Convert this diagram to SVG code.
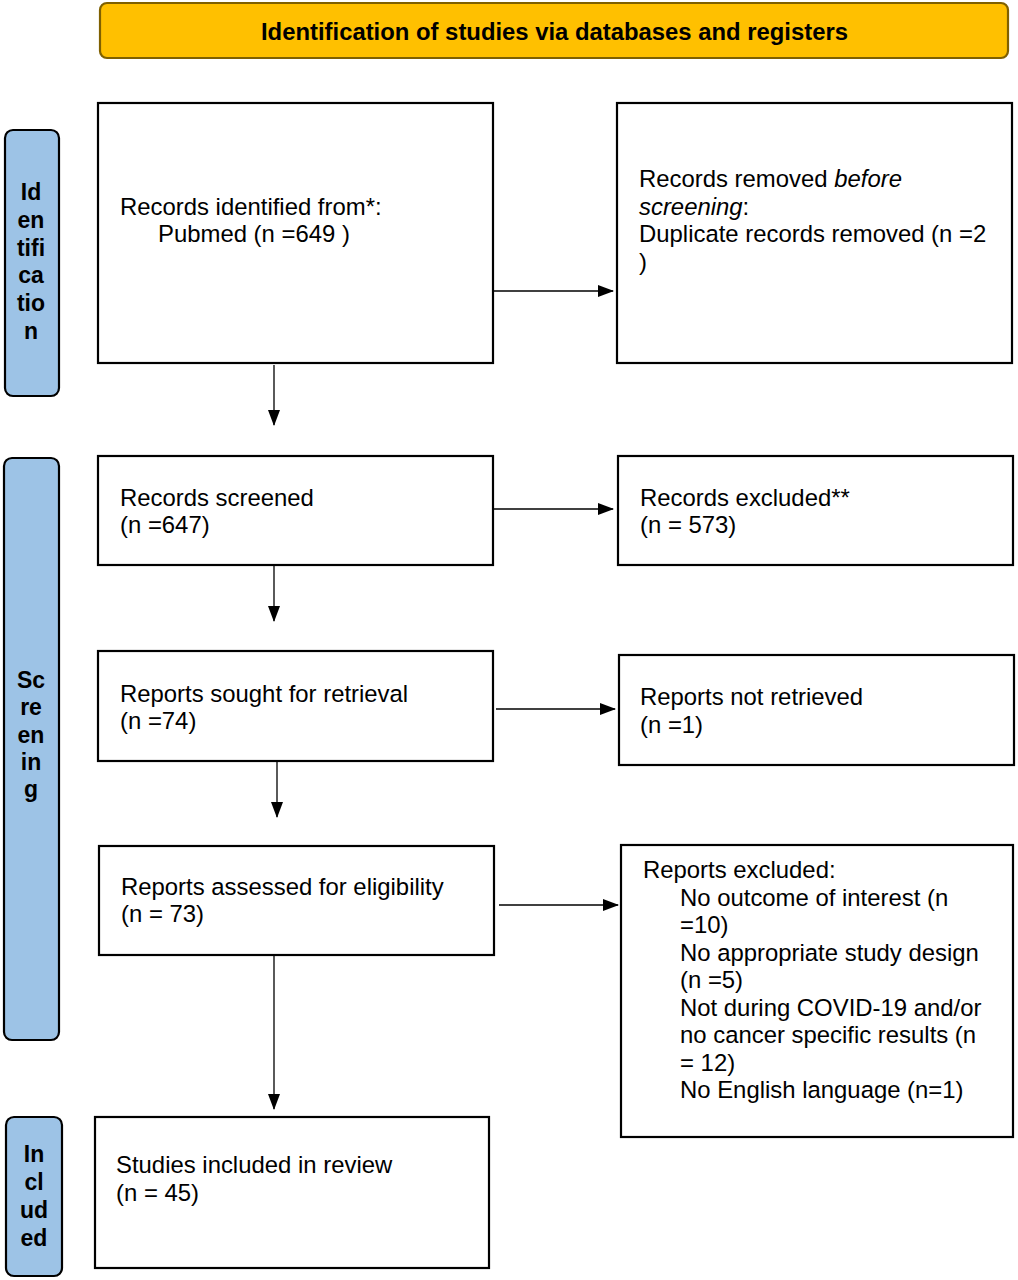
<svg xmlns="http://www.w3.org/2000/svg" width="1018" height="1280" viewBox="0 0 1018 1280">
<style>
.box{fill:#fff;stroke:#000;stroke-width:2.2}
.side{fill:#9DC3E6;stroke:#000;stroke-width:2.2}
.hdr{fill:#FFC000;stroke:#7F6000;stroke-width:2.2}
.t{font-family:"Liberation Sans",Arial,sans-serif;font-size:23.9px;fill:#000}
.s{font-family:"Liberation Sans",Arial,sans-serif;font-size:23px;font-weight:bold;fill:#000;text-anchor:middle}
.h{font-family:"Liberation Sans",Arial,sans-serif;font-size:23.5px;font-weight:bold;fill:#000;text-anchor:middle}
.c{stroke:#000;stroke-width:1.3;fill:none}
</style>
<defs>
<marker id="arr" markerWidth="16" markerHeight="12" refX="15" refY="6" orient="auto" markerUnits="userSpaceOnUse">
<path d="M0,0 L16,6 L0,12 Z" fill="#000"/>
</marker>
</defs>
<rect width="1018" height="1280" fill="#fff"/>
<g id="header">
<rect class="hdr" x="100" y="3" width="908" height="55" rx="7"/>
<text class="h" x="554.5" y="40" textLength="587" lengthAdjust="spacingAndGlyphs">Identification of studies via databases and registers</text>
</g>
<g id="side-identification">
<rect class="side" x="5" y="130" width="54" height="266" rx="8"/>
<text class="s"><tspan x="31" y="200">Id</tspan><tspan x="31" y="228">en</tspan><tspan x="31" y="256">tifi</tspan><tspan x="31" y="283">ca</tspan><tspan x="31" y="311">tio</tspan><tspan x="31" y="339">n</tspan></text>
</g>
<g id="side-screening">
<rect class="side" x="4" y="458" width="55" height="582" rx="8"/>
<text class="s"><tspan x="31" y="688">Sc</tspan><tspan x="31" y="715">re</tspan><tspan x="31" y="743">en</tspan><tspan x="31" y="770">in</tspan><tspan x="31" y="797">g</tspan></text>
</g>
<g id="side-included">
<rect class="side" x="6" y="1117" width="56" height="159" rx="8"/>
<text class="s"><tspan x="34" y="1162">In</tspan><tspan x="34" y="1190">cl</tspan><tspan x="34" y="1218">ud</tspan><tspan x="34" y="1246">ed</tspan></text>
</g>
<g id="identified">
<rect class="box" x="98" y="103" width="395" height="260"/>
<text class="t"><tspan x="120" y="215">Records identified from*:</tspan><tspan x="158" y="242">Pubmed (n =649 )</tspan></text>
</g>
<g id="removed">
<rect class="box" x="617" y="103" width="395" height="260"/>
<text class="t"><tspan x="639" y="187">Records removed <tspan font-style="italic">before</tspan></tspan><tspan x="639" y="215"><tspan font-style="italic">screening</tspan>:</tspan><tspan x="639" y="242">Duplicate records removed (n =2</tspan><tspan x="639" y="270">)</tspan></text>
</g>
<g id="screened">
<rect class="box" x="98" y="456" width="395" height="109"/>
<text class="t"><tspan x="120" y="506">Records screened</tspan><tspan x="120" y="533">(n =647)</tspan></text>
</g>
<g id="excluded">
<rect class="box" x="618" y="456" width="395" height="109"/>
<text class="t"><tspan x="640" y="506">Records excluded**</tspan><tspan x="640" y="533">(n = 573)</tspan></text>
</g>
<g id="sought">
<rect class="box" x="98" y="651" width="395" height="110"/>
<text class="t"><tspan x="120" y="702">Reports sought for retrieval</tspan><tspan x="120" y="729">(n =74)</tspan></text>
</g>
<g id="notretrieved">
<rect class="box" x="619" y="655" width="395" height="110"/>
<text class="t"><tspan x="640" y="705">Reports not retrieved</tspan><tspan x="640" y="733">(n =1)</tspan></text>
</g>
<g id="assessed">
<rect class="box" x="99" y="846" width="395" height="109"/>
<text class="t"><tspan x="121" y="895">Reports assessed for eligibility</tspan><tspan x="121" y="922">(n = 73)</tspan></text>
</g>
<g id="reportsexcluded">
<rect class="box" x="621" y="845" width="392" height="292"/>
<text class="t"><tspan x="643" y="878">Reports excluded:</tspan><tspan x="680" y="906">No outcome of interest (n</tspan><tspan x="680" y="933">=10)</tspan><tspan x="680" y="961">No appropriate study design</tspan><tspan x="680" y="988">(n =5)</tspan><tspan x="680" y="1016">Not during COVID-19 and/or</tspan><tspan x="680" y="1043">no cancer specific results (n</tspan><tspan x="680" y="1071">= 12)</tspan><tspan x="680" y="1098">No English language (n=1)</tspan></text>
</g>
<g id="included">
<rect class="box" x="95" y="1117" width="394" height="151"/>
<text class="t"><tspan x="116" y="1173">Studies included in review</tspan><tspan x="116" y="1201">(n = 45)</tspan></text>
</g>
<g id="connectors">
<line class="c" x1="494" y1="291" x2="613" y2="291" marker-end="url(#arr)"/>
<line class="c" x1="274" y1="365" x2="274" y2="425" marker-end="url(#arr)"/>
<line class="c" x1="494" y1="509" x2="613" y2="509" marker-end="url(#arr)"/>
<line class="c" x1="274" y1="565" x2="274" y2="621" marker-end="url(#arr)"/>
<line class="c" x1="496" y1="709" x2="615" y2="709" marker-end="url(#arr)"/>
<line class="c" x1="277" y1="760" x2="277" y2="817" marker-end="url(#arr)"/>
<line class="c" x1="499" y1="905" x2="618" y2="905" marker-end="url(#arr)"/>
<line class="c" x1="274" y1="955" x2="274" y2="1109" marker-end="url(#arr)"/>
</g>
</svg>
